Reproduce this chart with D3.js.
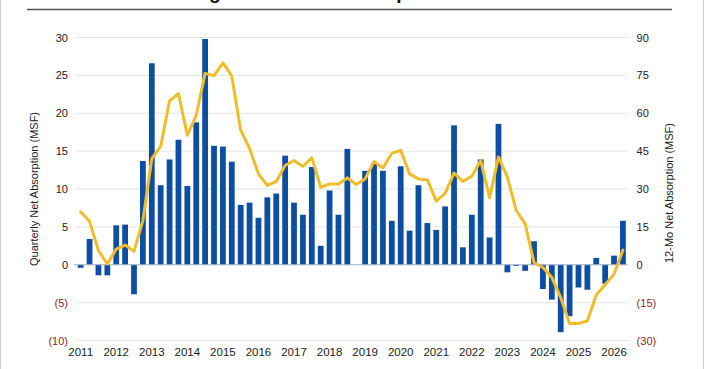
<!DOCTYPE html>
<html>
<head>
<meta charset="utf-8">
<script src="https://cdn.jsdelivr.net/npm/d3@7"></script>
<style>
  html, body { margin: 0; padding: 0; background: #fff; }
  svg { display: block; font-family: "Liberation Sans", Arial, sans-serif; }
</style>
</head>
<body>
<svg id="chart" width="704" height="369"></svg>
<script>
// ---- data ----
const years = d3.range(2011, 2027).map(String);
const quarters = [];
years.forEach(y => ["Q1","Q2","Q3","Q4"].forEach(q => quarters.push(y + " " + q)));
const categories = quarters.slice(0, 62);

const quarterlyNetAbsorption = [
  -0.4, 3.4, -1.4, -1.4,
  5.2, 5.3, -3.9, 13.7,
  26.6, 10.5, 13.9, 16.5,
  10.4, 18.8, 29.8, 15.7,
  15.6, 13.6, 7.9, 8.2,
  6.2, 8.9, 9.4, 14.4,
  8.2, 6.6, 12.9, 2.5,
  9.8, 6.6, 15.3, 0,
  12.4, 13.4, 12.4, 5.8,
  13.0, 4.5, 10.5, 5.5,
  4.6, 7.7, 18.4, 2.3,
  6.6, 13.9, 3.6, 18.6,
  -1.0, -0.15, -0.8, 3.1,
  -3.2, -4.6, -8.9, -6.8,
  -3.0, -3.3, 0.9, -2.5,
  1.2, 5.8
];
const twelveMoNetAbsorption = [
  21, 17.2, 5.6, 0.3,
  6.2, 7.8, 5.3, 17.5,
  42, 46.9, 64.9, 67.8,
  51.3, 59.2, 75.8, 74.9,
  80, 74.7, 53.3, 46,
  36, 31.4, 33, 39.3,
  41.3, 38.9, 42.4, 30.7,
  32, 32, 34.4, 31.8,
  34, 40.9, 38.3, 44.2,
  45.3, 36, 34, 33.6,
  25.2, 28.3, 36.3, 33,
  35.1, 41.3, 26.5, 42.7,
  34.7, 21.5, 16.2, 0.9,
  -1.1, -5, -13, -23.3,
  -23.3, -22.2, -12, -7.9,
  -3.7, 5.8
];
const leftTicks = [30, 25, 20, 15, 10, 5, 0, -5, -10];
const rightTicks = [90, 75, 60, 45, 30, 15, 0, -15, -30];
const titleText = "Big Shifts in Net Absorption";
const leftTitle = "Quarterly Net Absorption (MSF)";
const rightTitle = "12-Mo Net Absorption (MSF)";

// ---- layout ----
const svg = d3.select("#chart");
const W = 704, H = 369;
const plotL = 76, plotR = 627.6, plotT = 37.5, plotB = 340.5;

const x = d3.scaleBand().domain(categories).range([plotL, plotR]).paddingInner(0.35).paddingOuter(0.2);
const yL = d3.scaleLinear().domain([-10, 30]).range([plotB, plotT]);
const yR = d3.scaleLinear().domain([-30, 90]).range([plotB, plotT]);

const fmt = v => v < 0 ? "(" + Math.abs(v) + ")" : String(v);
const negColor = "#8c2a2a";

// frame
svg.append("rect").attr("x", 0.5).attr("y", -2).attr("width", W - 1).attr("height", H + 4)
  .attr("fill", "none").attr("stroke", "#cfcfcf");

// title (mostly cut off at top)
svg.append("text").attr("x", 190).attr("y", -1).attr("font-size", 19).attr("font-weight", "bold")
  .attr("fill", "#111").text(titleText);
svg.append("line").attr("x1", 27).attr("x2", 672).attr("y1", 9.5).attr("y2", 9.5)
  .attr("stroke", "#555").attr("stroke-width", 1.5);

// gridlines
svg.append("g").selectAll("line").data(leftTicks.filter(d => d !== 0)).join("line")
  .attr("x1", plotL).attr("x2", plotR)
  .attr("y1", d => yL(d)).attr("y2", d => yL(d))
  .attr("stroke", "#e4e4e4").attr("stroke-width", 1);

// left axis
const axL = svg.append("g").attr("transform", `translate(${plotL},0)`)
  .call(d3.axisLeft(yL).tickValues(leftTicks).tickFormat(fmt).tickSize(0).tickPadding(8));
axL.select(".domain").remove();
axL.selectAll("text").attr("font-size", 11).attr("font-family", "Liberation Sans, Arial, sans-serif")
  .attr("fill", d => d < 0 ? negColor : "#222");

// right axis
const axR = svg.append("g").attr("transform", `translate(${plotR},0)`)
  .call(d3.axisRight(yR).tickValues(rightTicks).tickFormat(fmt).tickSize(0).tickPadding(9));
axR.select(".domain").remove();
axR.selectAll("text").attr("font-size", 11).attr("font-family", "Liberation Sans, Arial, sans-serif")
  .attr("fill", d => d < 0 ? negColor : "#222");

// bars
svg.append("g").selectAll("rect").data(quarterlyNetAbsorption).join("rect")
  .attr("x", (d, i) => x(categories[i]))
  .attr("width", x.bandwidth())
  .attr("y", d => yL(Math.max(0, d)))
  .attr("height", d => Math.abs(yL(d) - yL(0)))
  .attr("fill", "#0c4ea3");

// zero line
svg.append("line").attr("x1", plotL - 2).attr("x2", plotR)
  .attr("y1", yL(0)).attr("y2", yL(0))
  .attr("stroke", "#9fb0c6").attr("stroke-width", 1.2);

// 12-month line
const line = d3.line()
  .x((d, i) => x(categories[i]) + x.bandwidth() / 2)
  .y(d => yR(d));
svg.append("path").datum(twelveMoNetAbsorption)
  .attr("d", line).attr("fill", "none")
  .attr("stroke", "#efbd2b").attr("stroke-width", 3)
  .attr("stroke-linejoin", "round").attr("stroke-linecap", "round");

// x axis
const axX = svg.append("g").attr("transform", `translate(0,${plotB + 1})`)
  .call(d3.axisBottom(x).tickValues(categories.filter(c => c.endsWith("Q1")))
    .tickFormat(c => c.slice(0, 4)).tickSize(0).tickPadding(6));
axX.select(".domain").remove();
axX.selectAll("text").attr("font-size", 11.5).attr("font-family", "Liberation Sans, Arial, sans-serif").attr("fill", "#222");

// axis titles
svg.append("text").attr("transform", `translate(38,${(plotT + plotB) / 2}) rotate(-90)`)
  .attr("text-anchor", "middle").attr("font-size", 11).attr("fill", "#222").text(leftTitle);
svg.append("text").attr("transform", `translate(673,${(plotT + plotB) / 2 + 4}) rotate(-90)`)
  .attr("text-anchor", "middle").attr("font-size", 11).attr("fill", "#222").text(rightTitle);
</script>
</body>
</html>
